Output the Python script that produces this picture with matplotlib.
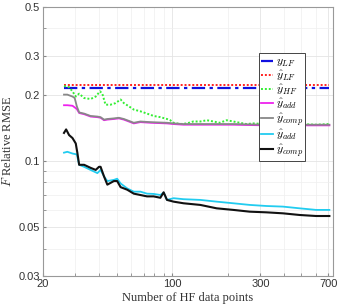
import numpy as np
import matplotlib
matplotlib.use("Agg")
import matplotlib.pyplot as plt
from matplotlib.ticker import FixedLocator, NullFormatter, LogLocator

plt.rcParams['mathtext.fontset'] = 'cm'

# constant low-fidelity errors
y_lf = 0.214
yhat_lf = 0.222
x_range = [26, 708]

# yhat_HF (green dotted)
hf_x = [26.0, 27.7, 28.9, 30.1, 31.4, 33.4, 36.2, 38.6, 40.7, 41.9, 43.6, 46.4, 49.4, 52.6, 54.8,
        58.3, 62.0, 67.3, 73.1, 79.4, 86.3, 93.7, 97.6, 101.8, 110.5, 120, 130, 142, 154, 167,
        181, 197, 214, 232, 252, 274, 323, 397, 489, 600, 708]
hf_y = [0.219, 0.216, 0.207, 0.196, 0.202, 0.193, 0.191, 0.196, 0.207, 0.202, 0.180, 0.180, 0.183, 0.190, 0.183,
        0.177, 0.171, 0.168, 0.164, 0.160, 0.158, 0.155, 0.153, 0.149, 0.147, 0.148, 0.151, 0.151, 0.153, 0.151,
        0.149, 0.153, 0.151, 0.149, 0.147, 0.148, 0.147, 0.147, 0.147, 0.146, 0.147]

# upper add / comp pair
up_x = [26.0, 27.1, 28.9, 29.7, 30.5, 31.4, 33.4, 36.2, 39.4, 41.0, 42.8, 44.6, 48.4, 51.5, 54.8,
        59.5, 62.0, 67.3, 76.2, 93.7, 101.8, 115.2, 142, 214, 323, 489, 708]
add1_y = [0.179, 0.179, 0.178, 0.175, 0.172, 0.165, 0.163, 0.159, 0.158, 0.157, 0.153, 0.154, 0.155, 0.156, 0.154,
          0.150, 0.148, 0.150, 0.149, 0.148, 0.147, 0.146, 0.146, 0.146, 0.145, 0.145, 0.145]
comp1_y = [0.200, 0.200, 0.196, 0.193, 0.177, 0.166, 0.164, 0.160, 0.159, 0.158, 0.154, 0.155, 0.156, 0.157, 0.155,
           0.151, 0.149, 0.151, 0.150, 0.149, 0.148, 0.147, 0.147, 0.147, 0.146, 0.146, 0.146]

# lower add (cyan)
add2_x = [26.0, 27.1, 28.9, 30.5, 31.4, 33.4, 36.2, 39.4, 41.0, 42.8, 44.6, 48.4, 50.4, 52.6, 57.1,
          62.0, 67.3, 73.1, 79.4, 86.3, 89.9, 93.7, 101.8, 115.2, 142, 174, 214, 263, 323, 397,
          489, 600, 708]
add2_y = [0.109, 0.110, 0.108, 0.107, 0.096, 0.094, 0.091, 0.088, 0.091, 0.085, 0.081, 0.082, 0.083, 0.079, 0.075,
          0.0725, 0.0725, 0.071, 0.0708, 0.070, 0.0718, 0.0665, 0.0677, 0.067, 0.0665, 0.0653, 0.0642, 0.0631, 0.0624, 0.0620,
          0.0609, 0.0599, 0.0599]

# lower comp (black)
comp2_x = [26.0, 26.7, 27.7, 28.9, 30.1, 30.7, 31.4, 33.4, 36.2, 38.6, 40.2, 41.0, 42.8, 44.6, 48.4,
           50.4, 52.6, 57.1, 62.0, 67.3, 73.1, 79.4, 86.3, 89.9, 93.7, 101.8, 115.2, 142, 174, 214,
           263, 323, 397, 489, 600, 708]
comp2_y = [0.134, 0.139, 0.131, 0.127, 0.120, 0.109, 0.096, 0.096, 0.093, 0.091, 0.094, 0.094, 0.085, 0.078, 0.081,
           0.081, 0.076, 0.074, 0.071, 0.070, 0.069, 0.069, 0.068, 0.072, 0.0665, 0.0653, 0.0642, 0.0631, 0.0609, 0.0599,
           0.0588, 0.0584, 0.0578, 0.0568, 0.0562, 0.0562]

yticks = [0.03, 0.05, 0.1, 0.2, 0.3, 0.5]
xticks = [20, 100, 300, 700]

fig = plt.figure(figsize=(3.38, 3.04), dpi=100)
ax = fig.add_axes([0.127, 0.092, 0.858, 0.885])

ax.plot(x_range, [y_lf, y_lf], color='#1010e0', ls=(0, (6, 2, 1.5, 2)), lw=1.6, label=r'$y_{LF}$')
ax.plot(x_range, [yhat_lf, yhat_lf], color='#ff2020', ls=(0, (1, 1)), lw=1.4, label=r'$\hat{y}_{LF}$')
ax.plot(hf_x, hf_y, color='#33ee33', ls=(0, (1, 1)), lw=1.4, label=r'$\hat{y}_{HF}$')
ax.plot(up_x, add1_y, color='#ee22ee', lw=1.3, label=r'$\hat{y}_{add}$')
ax.plot(up_x, comp1_y, color='#888888', lw=1.3, label=r'$\hat{y}_{comp}$')
ax.plot(add2_x, add2_y, color='#22ccf0', lw=1.3, label=r'$\hat{y}_{add}$')
ax.plot(comp2_x, comp2_y, color='#111111', lw=1.5, label=r'$\hat{y}_{comp}$')

ax.set_xscale('log')
ax.set_yscale('log')
ax.set_xlim(20, 740)
ax.set_ylim(0.03, 0.5)
ax.xaxis.set_major_locator(FixedLocator(xticks))
ax.xaxis.set_minor_locator(LogLocator(base=10, subs=np.arange(2, 10)))
ax.xaxis.set_minor_formatter(NullFormatter())
ax.yaxis.set_major_locator(FixedLocator(yticks))
ax.yaxis.set_minor_locator(FixedLocator([0.04, 0.06, 0.07, 0.08, 0.09, 0.4]))
ax.yaxis.set_minor_formatter(NullFormatter())
ax.set_xticklabels([str(t) for t in xticks], family='Liberation Sans', fontsize=8, color='#333333')
ax.set_yticklabels([str(t) for t in yticks], family='Liberation Sans', fontsize=8, color='#333333')
ax.tick_params(which='both', direction='in', length=2, color='#888888', pad=2)
ax.grid(True, which='major', color='#e4e4e4', lw=0.6)
ax.grid(True, which='minor', color='#efefef', lw=0.5)
for s in ax.spines.values():
    s.set_color('#999999')
    s.set_linewidth(0.8)

ax.set_xlabel('Number of HF data points', family='Liberation Serif', fontsize=9, color='#333333', labelpad=2)
ax.set_ylabel(r'$F$ Relative RMSE', family='Liberation Serif', fontsize=9, color='#333333', labelpad=3)

leg = ax.legend(loc='upper left', bbox_to_anchor=(0.745, 0.829), fontsize=8.5, handlelength=1.0,
                handletextpad=0.25, labelspacing=0.0, borderpad=0.15, borderaxespad=0,
                fancybox=False, framealpha=1, edgecolor='#444444')
leg.get_frame().set_linewidth(0.7)

fig.savefig('out.png', dpi=100)
